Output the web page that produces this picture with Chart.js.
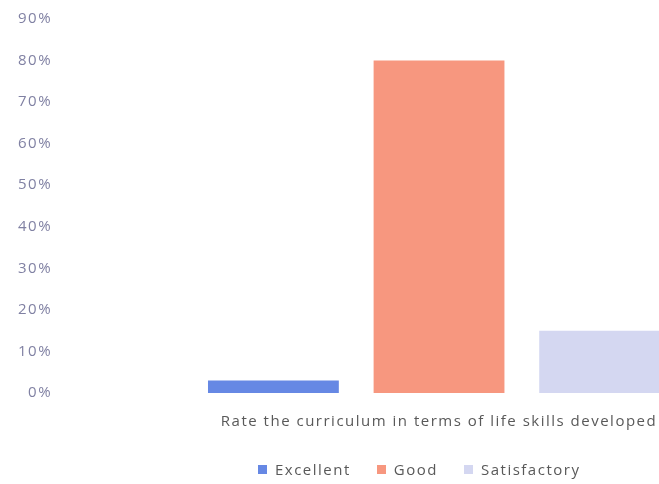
<!DOCTYPE html>
<html>
<head>
<meta charset="utf-8">
<script src="https://cdn.jsdelivr.net/npm/chart.js@4"></script>
<style>
  html, body { margin: 0; padding: 0; background: #fff; overflow: hidden; }
  #wrap { position: relative; width: 659px; height: 484px; overflow: hidden; }
  #legend {
    position: absolute; left: 258px; top: 459px;
    display: flex; align-items: center;
    font-family: 'Open Sans'; font-size: 15px; letter-spacing: 1.5px; color: #595959;
    white-space: nowrap; line-height: 20px;
  }
  #legend .item { display: flex; align-items: center; margin-right: 26px; }
  #legend .box { width: 9px; height: 9px; margin-right: 8px; }
</style>
</head>
<body>
<div id="wrap">
  <canvas id="ratingChart" width="816" height="484"></canvas>
  <div id="legend"></div>
</div>
<script>
const categories = ['Rate the curriculum in terms of life skills developed'];
const seriesNames = ['Excellent', 'Good', 'Satisfactory'];
const excellent = [3];
const good = [80];
const satisfactory = [15];
const yTicks = [0, 10, 20, 30, 40, 50, 60, 70, 80, 90];

// the source text is drawn wide, so space the letters out a bit
// (set on every pass because resizing the canvas resets the context)
const wideText = {
    id: 'wideText',
    beforeUpdate: chart => { chart.ctx.letterSpacing = '1.5px'; },
    beforeDraw: chart => { chart.ctx.letterSpacing = '1.5px'; }
};

document.addEventListener("DOMContentLoaded", function () {
    const ctx = document.getElementById('ratingChart').getContext('2d');
    const colors = ['#6688e4', '#f7977f', '#d4d7f1'];
    const values = [excellent, good, satisfactory];

    const chart = new Chart(ctx, {
        type: 'bar',
        data: {
            labels: categories,
            datasets: seriesNames.map((name, i) => ({
                label: name,
                data: values[i],
                backgroundColor: colors[i],
                barPercentage: 0.79,
                categoryPercentage: 0.659
            }))
        },
        plugins: [wideText],
        options: {
            responsive: false,
            animation: false,
            layout: { padding: { top: 18, left: 8, right: 0, bottom: 33 } },
            plugins: {
                legend: { display: false },
                tooltip: { enabled: false }
            },
            scales: {
                x: {
                    grid: { display: false, drawTicks: false },
                    border: { display: false },
                    ticks: { color: '#595959', padding: 20, font: { family: 'Open Sans', size: 15 } }
                },
                y: {
                    min: 0, max: 90,
                    afterBuildTicks: axis => { axis.ticks = yTicks.map(v => ({ value: v })); },
                    grid: { display: false, drawTicks: false },
                    border: { display: false },
                    ticks: {
                        color: '#8081a3', padding: 10,
                        font: { family: 'Open Sans', size: 15 },
                        callback: v => v + '%'
                    }
                }
            }
        }
    });

    // legend built from the chart's own datasets
    const legend = document.getElementById('legend');
    chart.data.datasets.forEach(ds => {
        const item = document.createElement('span');
        item.className = 'item';
        item.innerHTML = '<span class="box" style="background:' + ds.backgroundColor + '"></span>' + ds.label;
        legend.appendChild(item);
    });
});
</script>
</body>
</html>
